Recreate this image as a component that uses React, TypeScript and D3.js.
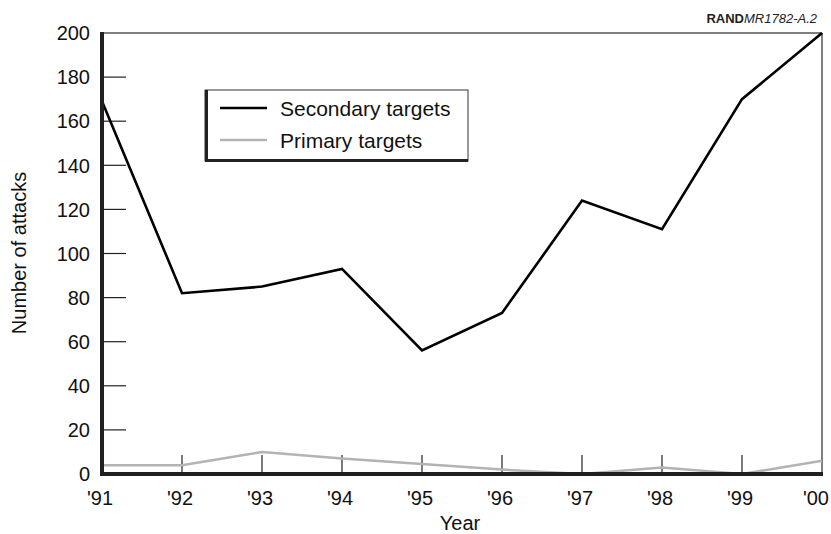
import React from "react";
import * as d3 from "d3";

const years = ["'91", "'92", "'93", "'94", "'95", "'96", "'97", "'98", "'99", "'00"];
const secondary = [169, 82, 85, 93, 56, 73, 124, 111, 170, 200];
const primary = [4, 4, 10, 7, 4.5, 2, 0, 3, 0, 6];
const yTicks = [0, 20, 40, 60, 80, 100, 120, 140, 160, 180, 200];
const legendItems = [
  { label: "Secondary targets", color: "#000" },
  { label: "Primary targets", color: "#b3b3b3" },
];

const W = 831;
const H = 534;
const left = 102;
const right = 822;
const top = 33;
const bottom = 474;
const font = "Liberation Sans, Arial, Helvetica, sans-serif";

export default function App() {
  const x = d3.scalePoint<string>().domain(years).range([left, right]);
  const y = d3.scaleLinear().domain([0, 200]).range([bottom, top]);
  const line = d3
    .line<number>()
    .x((_, i) => x(years[i]) as number)
    .y((d) => y(d));

  return (
    <svg
      width={W}
      height={H}
      style={{ position: "absolute", left: 0, top: 0, background: "#fff" }}
      fontFamily={font}
    >
      <rect x={0} y={0} width={W} height={H} fill="#fff" />
      {/* top & right frame */}
      <line x1={left} x2={right} y1={top} y2={top} stroke="#555" strokeWidth={1.5} />
      <line x1={right} x2={right} y1={top} y2={bottom} stroke="#555" strokeWidth={1.5} />
      {/* y ticks */}
      {yTicks.map((t) => (
        <g key={t}>
          {t > 0 && t < 200 && (
            <line x1={left} x2={left + 24} y1={y(t)} y2={y(t)} stroke="#222" strokeWidth={1.2} />
          )}
          <text x={90} y={y(t)} dy="0.36em" textAnchor="end" fontSize={20} fill="#111">
            {t}
          </text>
        </g>
      ))}
      {/* x ticks */}
      {years.map((yr, i) => {
        const last = i === years.length - 1;
        return (
          <g key={yr}>
            {i > 0 && !last && (
              <line
                x1={x(yr)}
                x2={x(yr)}
                y1={bottom}
                y2={bottom - 19}
                stroke="#222"
                strokeWidth={1.2}
              />
            )}
            <text
              x={last ? 829 : (x(yr) as number) - 2}
              y={505}
              textAnchor={last ? "end" : "middle"}
              fontSize={20}
              fill="#111"
            >
              {yr}
            </text>
          </g>
        );
      })}
      {/* lines */}
      <path d={line(primary) || ""} fill="none" stroke="#b3b3b3" strokeWidth={2.5} strokeLinejoin="miter" />
      <path d={line(secondary) || ""} fill="none" stroke="#000" strokeWidth={2.6} strokeLinejoin="miter" />
      {/* axes */}
      <line x1={left} x2={left} y1={top - 1} y2={bottom + 2} stroke="#231f20" strokeWidth={4} />
      <line x1={left - 2} x2={right + 1} y1={bottom} y2={bottom} stroke="#231f20" strokeWidth={4} />
      {/* axis titles */}
      <text x={460} y={530} textAnchor="middle" fontSize={20} fill="#111">
        Year
      </text>
      <text
        transform={`translate(26,253) rotate(-90)`}
        textAnchor="middle"
        fontSize={20}
        fill="#111"
      >
        Number of attacks
      </text>
      {/* source label */}
      <text x={817} y={23} textAnchor="end" fontSize={13} fill="#222">
        <tspan fontWeight="bold">RAND</tspan>
        <tspan fontStyle="italic">MR1782-A.2</tspan>
      </text>
      {/* legend */}
      <g>
        <rect x={205} y={90} width={263} height={71} fill="#fff" stroke="#333" strokeWidth={1} />
        <line x1={206.5} x2={206.5} y1={90} y2={162} stroke="#222" strokeWidth={3} />
        <line x1={205} x2={468} y1={160.5} y2={160.5} stroke="#222" strokeWidth={3} />
        {legendItems.map((it, i) => (
          <g key={it.label}>
            <line
              x1={220}
              x2={267}
              y1={108 + i * 32}
              y2={108 + i * 32}
              stroke={it.color}
              strokeWidth={2.6}
            />
            <text x={280} y={108 + i * 32} dy="0.36em" fontSize={21} fill="#111">
              {it.label}
            </text>
          </g>
        ))}
      </g>
    </svg>
  );
}
